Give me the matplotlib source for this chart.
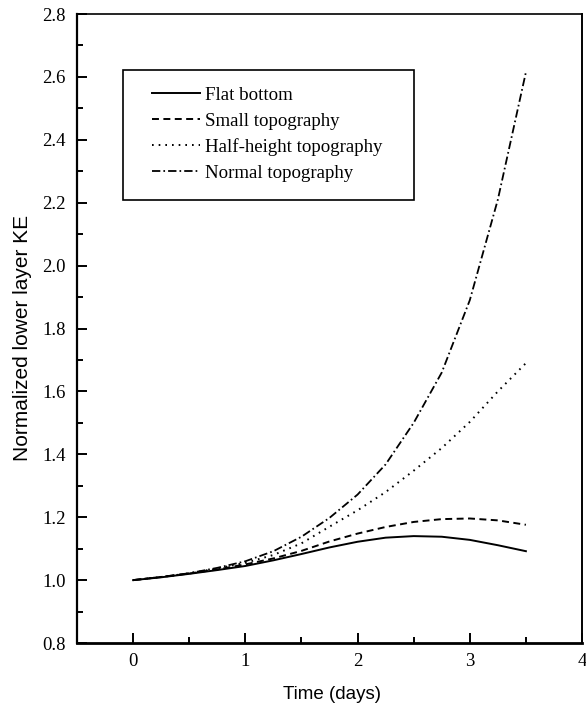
import numpy as np
import matplotlib.pyplot as plt
from matplotlib.ticker import MultipleLocator
from matplotlib.patches import Rectangle

plt.rcParams['lines.scale_dashes'] = False

# Time axis (days) and normalized lower layer kinetic energy for each run
days = [0.0, 0.25, 0.5, 0.75, 1.0, 1.25, 1.5, 1.75, 2.0, 2.25, 2.5, 2.75, 3.0, 3.25, 3.5]
flat_bottom = [1.000, 1.009, 1.020, 1.032, 1.045, 1.063, 1.083, 1.104, 1.122, 1.135, 1.140, 1.138, 1.128, 1.111, 1.092]
small_topo = [1.000, 1.010, 1.021, 1.034, 1.050, 1.069, 1.093, 1.123, 1.148, 1.169, 1.185, 1.194, 1.196, 1.190, 1.176]
half_topo = [1.000, 1.010, 1.022, 1.037, 1.055, 1.080, 1.117, 1.170, 1.222, 1.280, 1.348, 1.420, 1.503, 1.600, 1.690]
normal_topo = [1.000, 1.010, 1.022, 1.039, 1.060, 1.092, 1.138, 1.198, 1.272, 1.368, 1.500, 1.660, 1.890, 2.210, 2.615]

labels = ['Flat bottom', 'Small topography', 'Half-height topography', 'Normal topography']

serif = 'Liberation Serif'
sans = 'Liberation Sans'

fig = plt.figure(figsize=(5.86, 7.04), dpi=100)
ax = fig.add_axes([0.1314, 0.0866, 0.8618, 0.8935])

ax.plot(days, flat_bottom, color='black', lw=1.4, label=labels[0])
ax.plot(days, small_topo, color='black', lw=1.4, dashes=(5, 3.2), label=labels[1])
ax.plot(days, half_topo, color='black', lw=1.4, dashes=(1.2, 3.6), label=labels[2])
ax.plot(days, normal_topo, color='black', lw=1.3, dashes=(6, 2.2, 1.2, 2.2), label=labels[3])

ax.set_xlim(-0.5, 4)
ax.set_ylim(0.8, 2.8)
ax.xaxis.set_major_locator(MultipleLocator(1))
ax.xaxis.set_minor_locator(MultipleLocator(0.5))
ax.yaxis.set_major_locator(MultipleLocator(0.2))
ax.yaxis.set_minor_locator(MultipleLocator(0.1))
ax.yaxis.set_major_formatter(plt.FormatStrFormatter('%.1f'))

ax.tick_params(which='both', direction='in', top=False, right=False, width=1.4, color='black')
ax.tick_params(which='major', length=7, labelsize=13.5, labelfontfamily=serif)
ax.tick_params(which='minor', length=4.5)
ax.tick_params(axis='x', which='major', pad=7)
ax.tick_params(axis='y', which='major', pad=8)

ax.spines['bottom'].set_linewidth(2.0)
ax.spines['left'].set_linewidth(1.6)
ax.spines['right'].set_linewidth(1.4)
ax.spines['top'].set_linewidth(1.2)

ax.set_xlabel('Time (days)', fontfamily=sans, fontsize=13.5)
ax.set_ylabel('Normalized lower layer KE', fontfamily=sans, fontsize=15)
ax.xaxis.set_label_coords(0.505, -0.068)
ax.yaxis.set_label_coords(-0.089, 0.485)

# legend box drawn separately so the inner padding can be wider than tall
ax.add_patch(Rectangle((0.091, 0.704), 0.576, 0.207, transform=ax.transAxes,
                       facecolor='white', edgecolor='black', lw=1.2, zorder=4))
leg = ax.legend(loc='center left', bbox_to_anchor=(0.1485, 0.809), borderaxespad=0,
                prop={'family': serif, 'size': 13.6}, frameon=False,
                handlelength=2.54, handletextpad=0.27, borderpad=0, labelspacing=0.45)
leg.set_zorder(5)

fig.savefig('out.png', dpi=100)
